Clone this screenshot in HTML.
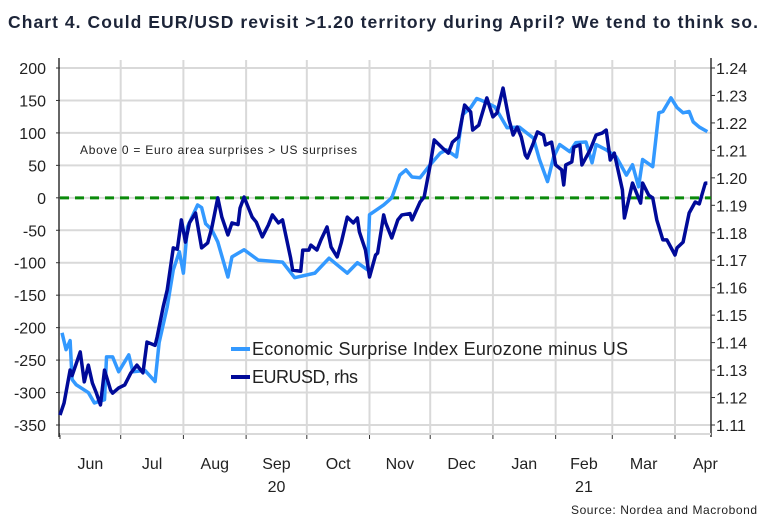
<!DOCTYPE html>
<html><head><meta charset="utf-8"><style>
body{margin:0;background:#fff;width:767px;height:521px;overflow:hidden;font-family:"Liberation Sans",sans-serif}
</style></head><body>
<svg id="chart" width="767" height="521" xmlns="http://www.w3.org/2000/svg" font-family="Liberation Sans, sans-serif">
<text x="8" y="28" font-size="17.5" font-weight="bold" fill="#1c2438" textLength="750">Chart 4. Could EUR/USD revisit &gt;1.20 territory during April? We tend to think so.</text>
<g id="grid"></g>
<g id="axes"></g>
<g id="series"></g>
<text x="80" y="154" font-size="12" fill="#222" textLength="277">Above 0 = Euro area surprises &gt; US surprises</text>
<g>
<line x1="231" y1="349" x2="250" y2="349" stroke="#3399ff" stroke-width="4"/>
<text x="252" y="355" font-size="18" fill="#222" textLength="376">Economic Surprise Index Eurozone minus US</text>
<line x1="231" y1="377" x2="250" y2="377" stroke="#000a99" stroke-width="4"/>
<text x="252" y="383" font-size="18" fill="#222" textLength="106">EURUSD, rhs</text>
</g>
<text x="757" y="514" font-size="12" fill="#222" text-anchor="end" textLength="186">Source: Nordea and Macrobond</text>
</svg>
<script>
const leftTicks=[200,150,100,50,0,-50,-100,-150,-200,-250,-300,-350];
const rightTicks=[1.24,1.23,1.22,1.21,1.20,1.19,1.18,1.17,1.16,1.15,1.14,1.13,1.12,1.11];
const monthLabels=["Jun","Jul","Aug","Sep","Oct","Nov","Dec","Jan","Feb","Mar","Apr"];
const monthStartDays=[0,30,61,92,122,153,183,214,245,273,304];
const yearLabels=["20","21"];
const esiDays=[1,3,5,6,8,14,17,22,23,26,29,34,36,42,47,49,53,56,59,61,63,68,70,72,75,78,83,85,91,98,110,116,126,133,142,147,152,153,160,164,168,171,174,178,183,188,191,196,199,203,206,210,215,221,227,234,237,241,244,247,252,255,260,263,265,270,275,280,283,286,288,293,296,298,302,305,308,311,313,316,320];
const esiValues=[-208,-234,-220,-280,-288,-300,-316,-311,-245,-245,-268,-242,-268,-266,-283,-223,-168,-111,-83,-116,-45,-11,-15,-40,-49,-68,-122,-91,-80,-96,-99,-123,-116,-93,-116,-100,-111,-26,-11,0,35,43,32,31,51,69,74,63,128,139,153,148,140,108,109,92,59,25,63,82,71,85,86,54,82,74,63,35,51,17,59,48,131,133,154,139,131,133,117,109,102];
const fxDays=[0,2,5,6,10,12,14,16,18,20,22,25,26,29,32,35,38,41,43,47,48,51,53,56,58,60,62,64,67,70,73,75,78,80,83,85,88,89,91,95,97,100,103,105,108,110,114,115,119,120,123,124,127,129,132,134,137,139,142,145,147,148,151,153,156,157,160,161,164,167,169,173,174,178,180,183,185,189,192,194,197,200,203,204,207,211,214,216,219,222,224,226,228,230,231,234,236,239,240,243,245,248,249,250,253,254,257,258,262,265,268,270,272,274,278,279,283,287,288,291,293,295,298,300,304,305,308,311,314,316,319,320];
const fxValues=[1.1136,1.118,1.130,1.128,1.1366,1.1257,1.1318,1.1253,1.1216,1.1173,1.130,1.1227,1.1216,1.1235,1.1246,1.1289,1.1318,1.129,1.1402,1.139,1.142,1.153,1.1592,1.1745,1.174,1.1847,1.1766,1.1836,1.1872,1.1745,1.1763,1.1817,1.1927,1.1857,1.1792,1.1836,1.183,1.189,1.193,1.1857,1.1839,1.1785,1.1828,1.1865,1.1836,1.1847,1.1708,1.1664,1.166,1.1737,1.1737,1.1755,1.1737,1.1774,1.1821,1.1748,1.1712,1.1763,1.1857,1.1836,1.1854,1.1803,1.1737,1.1639,1.1719,1.1726,1.1865,1.1836,1.1781,1.1847,1.1865,1.187,1.1847,1.1912,1.193,1.2047,1.2138,1.2109,1.209,1.213,1.2149,1.2265,1.224,1.2174,1.2192,1.2291,1.2222,1.2236,1.2327,1.2211,1.2156,1.2185,1.2149,1.2083,1.2072,1.2127,1.2167,1.2156,1.212,1.213,1.2047,1.2029,1.1974,1.2047,1.2058,1.2112,1.212,1.2047,1.2101,1.2156,1.2163,1.2174,1.2065,1.209,1.1956,1.1854,1.1981,1.1908,1.1981,1.1937,1.1927,1.1847,1.1774,1.1774,1.1719,1.1745,1.1766,1.1872,1.1912,1.1905,1.1981,1.1981];

const NS="http://www.w3.org/2000/svg";
const X0=60,X1=711,Y0=68,Y1=425;
const xs=d=>60+d*2.023;
const yl=v=>Y0+(200-v)/550*(Y1-Y0);
const yr=v=>Y0+(1.24-v)/0.13*(Y1-Y0);
function mk(tag,parent,attrs){const e=document.createElementNS(NS,tag);for(const k in attrs)e.setAttribute(k,attrs[k]);parent.appendChild(e);return e;}
const grid=document.getElementById('grid'),axes=document.getElementById('axes'),series=document.getElementById('series');
leftTicks.forEach(v=>{
  const y=yl(v);
  const g=mk('line',grid,{x1:X0,x2:X1,y1:y,y2:y,stroke:'#d9d9d9','stroke-width':2});
  
  
  const t=mk('text',axes,{x:46,y:y+6,'font-size':16,'text-anchor':'end',fill:'#222'});
  t.textContent=v;
  
  
  const tk=mk('line',axes,{x1:X0-4,x2:X0,y1:y,y2:y,stroke:'#333','stroke-width':1});
  
  
});
monthStartDays.forEach((d,i)=>{
  const x=xs(d);
  if(i>0){const g=mk('line',grid,{x1:x,x2:x,y1:Y0-8,y2:Y1+8,stroke:'#d9d9d9','stroke-width':2});
  
  }
  const tk=mk('line',axes,{x1:x,x2:x,y1:Y1+8,y2:Y1+14,stroke:'#333','stroke-width':1});
  
  
  const next=i+1<monthStartDays.length?monthStartDays[i+1]:334;
  const t=mk('text',axes,{x:xs((d+next)/2),y:469,'font-size':16,'text-anchor':'middle',fill:'#222'});
  t.textContent=monthLabels[i];
  
  
});
[[xs(107),yearLabels[0]],[xs(259),yearLabels[1]]].forEach(([x,s])=>{
  const t=mk('text',axes,{x:x,y:492,'font-size':16,'text-anchor':'middle',fill:'#222'});
  t.textContent=s;
  
  
});
rightTicks.forEach(v=>{
  const y=yr(v);
  const tk=mk('line',axes,{x1:X1,x2:X1+4,y1:y,y2:y,stroke:'#333','stroke-width':1});
  
  
  const t=mk('text',axes,{x:716,y:y+6,'font-size':16,fill:'#222'});
  t.textContent=v.toFixed(2);
  
  
});
const la=mk('line',axes,{x1:X0-1,x2:X0-1,y1:Y0-10,y2:Y1+12,stroke:'#333','stroke-width':1.5});


const ra=mk('line',axes,{x1:X1,x2:X1,y1:Y0-10,y2:Y1+12,stroke:'#333','stroke-width':1.5});


const ba=mk('line',axes,{x1:X0,x2:X1,y1:Y1+9,y2:Y1+9,stroke:'#d9d9d9','stroke-width':2});


const zl=mk('line',series,{x1:X0,x2:X1,y1:yl(0),y2:yl(0),stroke:'#0a8a0a','stroke-width':3,'stroke-dasharray':'9,6'});


const fxPath=mk('polyline',series,{points:fxDays.map((d,i)=>xs(d)+','+yr(fxValues[i])).join(' '),fill:'none',stroke:'#000a99','stroke-width':3.5,'stroke-linejoin':'round'});


const esiPath=mk('polyline',series,{points:esiDays.map((d,i)=>xs(d)+','+yl(esiValues[i])).join(' '),fill:'none',stroke:'#3399ff','stroke-width':3.5,'stroke-linejoin':'round'});


series.insertBefore(esiPath,fxPath);
</script>
</body></html>
